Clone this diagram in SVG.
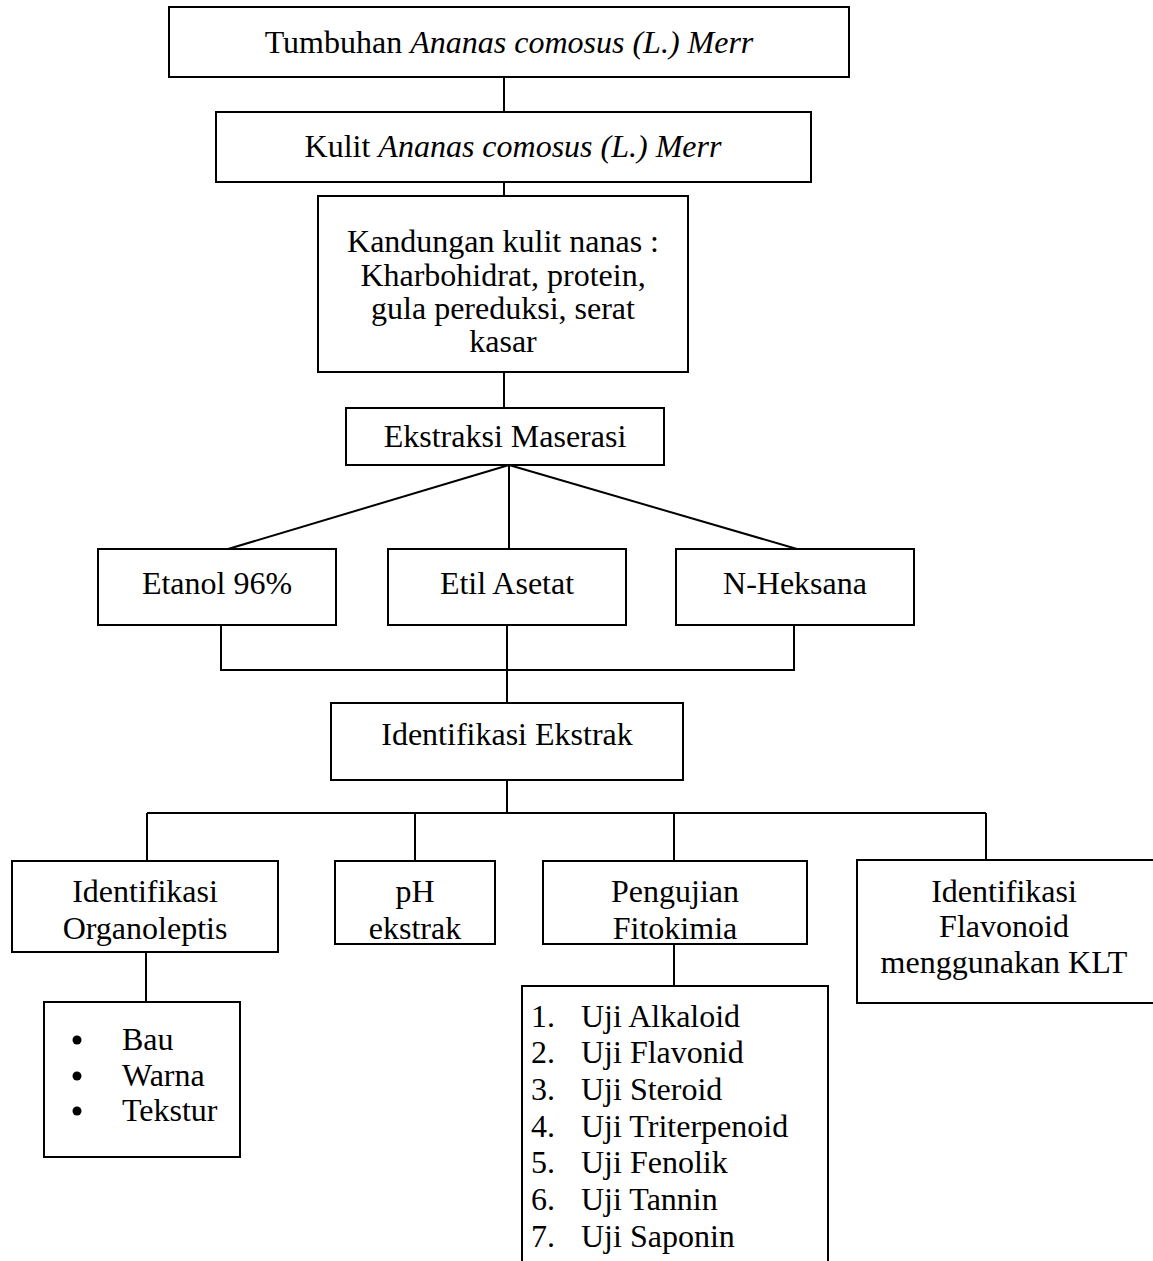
<svg xmlns="http://www.w3.org/2000/svg" width="1153" height="1261" viewBox="0 0 1153 1261">
<style>
.box{fill:#fff;stroke:#000;stroke-width:2}
.t{font-family:"Liberation Serif","Times New Roman",serif;font-size:32px;fill:#000}
.c{text-anchor:middle}
.i{font-style:italic}
.ln{stroke:#000;stroke-width:2;fill:none}
</style>
<rect width="1153" height="1261" fill="#fff"/>
<g id="connectors">
<line class="ln" x1="504" y1="77" x2="504" y2="112"/>
<line class="ln" x1="504" y1="182" x2="504" y2="196"/>
<line class="ln" x1="504" y1="372" x2="504" y2="408"/>
<line class="ln" x1="509" y1="465" x2="228" y2="549"/>
<line class="ln" x1="509" y1="465" x2="509" y2="549"/>
<line class="ln" x1="509" y1="465" x2="797" y2="549"/>
<polyline class="ln" points="221,625 221,670 794,670 794,625"/>
<line class="ln" x1="507" y1="625" x2="507" y2="703"/>
<line class="ln" x1="507" y1="780" x2="507" y2="813"/>
<line class="ln" x1="147" y1="813" x2="986" y2="813"/>
<line class="ln" x1="147" y1="813" x2="147" y2="861"/>
<line class="ln" x1="415" y1="813" x2="415" y2="861"/>
<line class="ln" x1="674" y1="813" x2="674" y2="861"/>
<line class="ln" x1="986" y1="813" x2="986" y2="860"/>
<line class="ln" x1="146" y1="952" x2="146" y2="1002"/>
<line class="ln" x1="674" y1="944" x2="674" y2="987"/>
</g>
<g id="n-tumbuhan">
<rect class="box" x="169" y="7" width="680" height="70"/>
<text class="t c" x="509" y="53">Tumbuhan <tspan class="i">Ananas comosus (L.) Merr</tspan></text>
</g>
<g id="n-kulit">
<rect class="box" x="216" y="112" width="595" height="70"/>
<text class="t c" x="513" y="157">Kulit <tspan class="i">Ananas comosus (L.) Merr</tspan></text>
</g>
<g id="n-kandungan">
<rect class="box" x="318" y="196" width="370" height="176"/>
<text class="t c" x="503" y="252">Kandungan kulit nanas :</text>
<text class="t c" x="503" y="286">Kharbohidrat, protein,</text>
<text class="t c" x="503" y="319">gula pereduksi, serat</text>
<text class="t c" x="503" y="352">kasar</text>
</g>
<g id="n-ekstraksi">
<rect class="box" x="346" y="408" width="318" height="57"/>
<text class="t c" x="505" y="447">Ekstraksi Maserasi</text>
</g>
<g id="n-etanol">
<rect class="box" x="98" y="549" width="238" height="76"/>
<text class="t c" x="217" y="594">Etanol 96%</text>
</g>
<g id="n-etil">
<rect class="box" x="388" y="549" width="238" height="76"/>
<text class="t c" x="507" y="594">Etil Asetat</text>
</g>
<g id="n-heksana">
<rect class="box" x="676" y="549" width="238" height="76"/>
<text class="t c" x="795" y="594">N-Heksana</text>
</g>
<g id="n-identifikasi-ekstrak">
<rect class="box" x="331" y="703" width="352" height="77"/>
<text class="t c" x="507" y="745">Identifikasi Ekstrak</text>
</g>
<g id="n-organoleptis">
<rect class="box" x="12" y="861" width="266" height="91"/>
<text class="t c" x="145" y="902">Identifikasi</text>
<text class="t c" x="145" y="939">Organoleptis</text>
</g>
<g id="n-ph">
<rect class="box" x="335" y="861" width="160" height="83"/>
<text class="t c" x="415" y="902">pH</text>
<text class="t c" x="415" y="939">ekstrak</text>
</g>
<g id="n-fitokimia">
<rect class="box" x="543" y="861" width="264" height="83"/>
<text class="t c" x="675" y="902">Pengujian</text>
<text class="t c" x="675" y="939">Fitokimia</text>
</g>
<g id="n-flavonoid">
<rect class="box" x="857" y="860" width="300" height="143"/>
<text class="t c" x="1004" y="902">Identifikasi</text>
<text class="t c" x="1004" y="937">Flavonoid</text>
<text class="t c" x="1004" y="973">menggunakan KLT</text>
</g>
<g id="n-organoleptis-list">
<rect class="box" x="44" y="1002" width="196" height="155"/>
<circle cx="77" cy="1040" r="4.5"/>
<circle cx="77" cy="1076" r="4.5"/>
<circle cx="77" cy="1111" r="4.5"/>
<text class="t" x="122" y="1050">Bau</text>
<text class="t" x="122" y="1086">Warna</text>
<text class="t" x="122" y="1121">Tekstur</text>
</g>
<g id="n-uji-list">
<rect class="box" x="522" y="986" width="306" height="281"/>
<text class="t" x="531" y="1027">1.</text><text class="t" x="581" y="1027">Uji Alkaloid</text>
<text class="t" x="531" y="1063">2.</text><text class="t" x="581" y="1063">Uji Flavonid</text>
<text class="t" x="531" y="1100">3.</text><text class="t" x="581" y="1100">Uji Steroid</text>
<text class="t" x="531" y="1137">4.</text><text class="t" x="581" y="1137">Uji Triterpenoid</text>
<text class="t" x="531" y="1173">5.</text><text class="t" x="581" y="1173">Uji Fenolik</text>
<text class="t" x="531" y="1210">6.</text><text class="t" x="581" y="1210">Uji Tannin</text>
<text class="t" x="531" y="1247">7.</text><text class="t" x="581" y="1247">Uji Saponin</text>
</g>
</svg>
